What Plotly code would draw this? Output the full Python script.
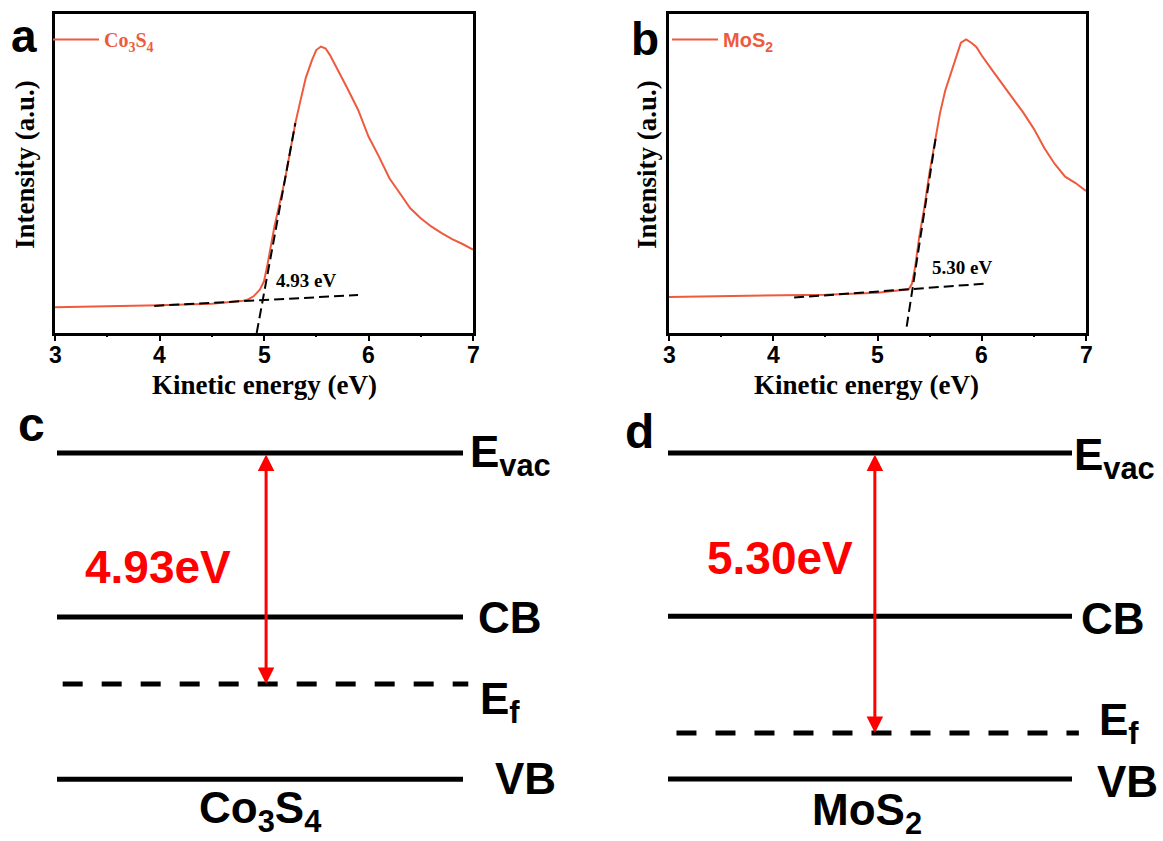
import plotly.graph_objects as go

W, H = 1163, 841
SANS = "Liberation Sans, Arial, sans-serif"
SERIF = "Liberation Serif, Times New Roman, serif"
CURVE = "#EE5A3E"

# ---------------- data: panel a (Co3S4) ----------------
energy_a = [3.0, 3.5, 4.0, 4.5, 4.7, 4.8, 4.84, 4.9, 4.96, 5.0, 5.03, 5.1, 5.2,
            5.25, 5.3, 5.35, 5.4, 5.46, 5.5, 5.545, 5.59, 5.63, 5.7, 5.79, 5.9,
            6.0, 6.1, 6.2, 6.3, 6.4, 6.5, 6.6, 6.7, 6.8, 6.9, 7.0]
intensity_a = [0.081, 0.0835, 0.087, 0.092, 0.097, 0.101, 0.104, 0.115, 0.136,
               0.162, 0.209, 0.334, 0.48, 0.574, 0.658, 0.73, 0.80, 0.856, 0.887,
               0.898, 0.892, 0.872, 0.83, 0.772, 0.70, 0.616, 0.553, 0.485, 0.438,
               0.391, 0.36, 0.334, 0.313, 0.294, 0.279, 0.261]
base_fit_a_x = [3.95, 5.90]
base_fit_a_y = [0.085, 0.119]
edge_fit_a_x = [4.93, 5.30]
edge_fit_a_y = [0.0, 0.658]
cutoff_a = "4.93 eV"

# ---------------- data: panel b (MoS2) ----------------
energy_b = [3.0, 3.5, 4.0, 4.5, 5.0, 5.2, 5.3, 5.33, 5.36, 5.4, 5.45, 5.5, 5.55,
            5.6, 5.65, 5.7, 5.75, 5.8, 5.85, 5.9, 5.95, 6.0, 6.1, 6.2, 6.3, 6.4,
            6.5, 6.6, 6.7, 6.8, 6.9, 7.0]
intensity_b = [0.113, 0.115, 0.116, 0.12, 0.126, 0.132, 0.137, 0.154, 0.205, 0.30,
               0.395, 0.505, 0.60, 0.69, 0.76, 0.81, 0.865, 0.91, 0.92, 0.91,
               0.896, 0.87, 0.824, 0.78, 0.735, 0.69, 0.64, 0.58, 0.53, 0.49,
               0.47, 0.445]
base_fit_b_x = [4.2, 6.05]
base_fit_b_y = [0.111, 0.155]
edge_fit_b_x = [5.28, 5.56]
edge_fit_b_y = [0.02, 0.615]
cutoff_b = "5.30 eV"

x_ticks = [3, 4, 5, 6, 7]
x_tick_text = ["3", "4", "5", "6", "7"]
x_minor_ticks = [3.5, 4.5, 5.5, 6.5]

# ---------------- data: energy level schemes ----------------
# schematic level positions (Evac = 0, Ef = -work function)
levels_c = {"Evac": 0.0, "CB": -3.50, "Ef": -4.93, "VB": -6.96}
levels_d = {"Evac": 0.0, "CB": -3.09, "Ef": -5.30, "VB": -6.17}
wf_c = "4.93eV"
wf_d = "5.30eV"
name_c = "Co<sub>3</sub>S<sub>4</sub>"
name_d = "MoS<sub>2</sub>"


def px(x):
    return x / W


def py(y):
    return 1 - y / H


fig = go.Figure()

# ---- panel a traces
fig.add_trace(go.Scatter(x=energy_a, y=intensity_a, mode="lines",
                         line=dict(color=CURVE, width=2),
                         name="Co<sub>3</sub>S<sub>4</sub>",
                         xaxis="x", yaxis="y", legend="legend"))
fig.add_trace(go.Scatter(x=base_fit_a_x, y=base_fit_a_y, mode="lines",
                         line=dict(color="black", width=2, dash="10px,5px"),
                         showlegend=False, xaxis="x", yaxis="y"))
fig.add_trace(go.Scatter(x=edge_fit_a_x, y=edge_fit_a_y, mode="lines",
                         line=dict(color="black", width=2, dash="10px,5px"),
                         showlegend=False, xaxis="x", yaxis="y"))

# ---- panel b traces
fig.add_trace(go.Scatter(x=energy_b, y=intensity_b, mode="lines",
                         line=dict(color=CURVE, width=2),
                         name="MoS<sub>2</sub>",
                         xaxis="x2", yaxis="y2", legend="legend2"))
fig.add_trace(go.Scatter(x=base_fit_b_x, y=base_fit_b_y, mode="lines",
                         line=dict(color="black", width=2, dash="10px,5px"),
                         showlegend=False, xaxis="x2", yaxis="y2"))
fig.add_trace(go.Scatter(x=edge_fit_b_x, y=edge_fit_b_y, mode="lines",
                         line=dict(color="black", width=2, dash="10px,5px"),
                         showlegend=False, xaxis="x2", yaxis="y2"))

# empty traces so the minor-tick overlay axes are drawn
fig.add_trace(go.Scatter(x=[], y=[], xaxis="x5", yaxis="y", showlegend=False,
                         hoverinfo="skip"))
fig.add_trace(go.Scatter(x=[], y=[], xaxis="x6", yaxis="y2", showlegend=False,
                         hoverinfo="skip"))


# ---- panels c / d: energy levels
def add_levels(levels, xa, ya, ef_x0, ef_x1):
    for key in ["Evac", "CB", "VB"]:
        fig.add_trace(go.Scatter(x=[0, 1], y=[levels[key], levels[key]],
                                 mode="lines", line=dict(color="black", width=5),
                                 showlegend=False, xaxis=xa, yaxis=ya,
                                 hoverinfo="skip"))
    fig.add_trace(go.Scatter(x=[ef_x0, ef_x1], y=[levels["Ef"], levels["Ef"]],
                             mode="lines",
                             line=dict(color="black", width=5, dash="20px,19px"),
                             showlegend=False, xaxis=xa, yaxis=ya,
                             hoverinfo="skip"))


add_levels(levels_c, "x3", "y3", 0.014, 1.013)
add_levels(levels_d, "x4", "y4", 0.021, 1.017)


def xaxis_def(domain, anchor):
    return dict(domain=domain, anchor=anchor, range=[3, 7], automargin=False,
                showline=True, linecolor="black", linewidth=2.5, mirror=True,
                showgrid=False, zeroline=False,
                tickmode="array", tickvals=x_ticks,
                ticks="outside", ticklen=5, tickwidth=2, tickcolor="black",
                showticklabels=False)


def minor_def(over, anchor):
    return dict(overlaying=over, anchor=anchor, range=[3, 7], side="bottom",
                automargin=False,
                tickmode="array", tickvals=x_minor_ticks, ticks="outside",
                ticklen=3, tickwidth=2, tickcolor="black", showticklabels=False,
                showgrid=False, zeroline=False, showline=False)


def yaxis_def(domain, anchor):
    return dict(domain=domain, anchor=anchor, range=[0, 1], automargin=False,
                showline=True, linecolor="black", linewidth=2.5, mirror=True,
                showgrid=False, zeroline=False, showticklabels=False, ticks="")


fig.update_layout(
    template="none",
    font=dict(family="Liberation Sans", size=22, color="black"),
    width=W, height=H, margin=dict(l=0, r=0, t=0, b=0, pad=0),
    paper_bgcolor="white", plot_bgcolor="white",
    xaxis=xaxis_def([px(55), px(473)], "y"),
    yaxis=yaxis_def([py(333), py(14)], "x"),
    xaxis2=xaxis_def([px(669), px(1086)], "y2"),
    yaxis2=yaxis_def([py(333), py(14)], "x2"),
    xaxis5=minor_def("x", "y"),
    xaxis6=minor_def("x2", "y2"),
    xaxis3=dict(visible=False, domain=[0, 0.5], anchor="y3",
                range=[-57 / 406, (581.5 - 57) / 406]),
    yaxis3=dict(visible=False, domain=[0, py(400)], anchor="x3",
                range=[-(841 - 453) / 46.86, 53 / 46.86]),
    xaxis4=dict(visible=False, domain=[0.5, 1], anchor="y4",
                range=[-(668 - 581.5) / 404, (1163 - 668) / 404]),
    yaxis4=dict(visible=False, domain=[0, py(400)], anchor="x4",
                range=[-(841 - 453) / 52.83, 53 / 52.83]),
    legend=dict(x=px(48), y=py(20), xanchor="left", yanchor="top",
                bgcolor="rgba(0,0,0,0)", itemwidth=46, borderwidth=0,
                font=dict(family=SERIF, size=20, color=CURVE, weight="bold")),
    legend2=dict(x=px(667), y=py(20), xanchor="left", yanchor="top",
                 bgcolor="rgba(0,0,0,0)", itemwidth=46, borderwidth=0,
                 font=dict(family=SANS, size=20, color=CURVE, weight="bold")),
)

ann = []


def text(x, y, t, size, fam=SANS, color="black", xref="paper", yref="paper",
         xanchor="center", yanchor="middle", angle=0):
    ann.append(dict(x=x, y=y, text=t, xref=xref, yref=yref, showarrow=False,
                    xanchor=xanchor, yanchor=yanchor, textangle=angle,
                    font=dict(family=fam, size=size, color=color, weight="bold")))


# x tick labels, placed at the tick values on each panel's energy axis
for xr in ["x", "x2"]:
    for tv, tt in zip(x_ticks, x_tick_text):
        text(tv, py(355), tt, 23, SANS, xref=xr)

# panel letters
text(px(24), py(36), "a", 46)
text(px(645), py(39), "b", 46)
text(px(31), py(425), "c", 48)
text(px(639), py(431), "d", 48)

# axis titles (a, b)
text(px(264), py(385), "Kinetic energy (eV)", 27, SERIF)
text(px(866), py(385), "Kinetic energy (eV)", 27, SERIF)
text(px(25), py(165), "Intensity (a.u.)", 27, SERIF, angle=-90)
text(px(647), py(165), "Intensity (a.u.)", 27, SERIF, angle=-90)

# cutoff labels
text(5.40, 0.166, cutoff_a, 19, SERIF, xref="x", yref="y")
text(5.815, 0.204, cutoff_b, 19, SERIF, xref="x2", yref="y2")

# panel c labels
text(1.012, -0.04, "E<sub>vac</sub>", 44, xref="x3", yref="y3", xanchor="left")
text(1.032, levels_c["CB"], "CB", 44, xref="x3", yref="y3", xanchor="left")
text(1.037, levels_c["Ef"] - 0.394, "E<sub>f</sub>", 44, xref="x3", yref="y3",
     xanchor="left")
text(1.074, levels_c["VB"] + 0.02, "VB", 44, xref="x3", yref="y3", xanchor="left")
text(0.249, -2.433, wf_c, 46, color="red", xref="x3", yref="y3")
text(0.5, -7.64, name_c, 44, xref="x3", yref="y3")

# panel d labels
text(1.0, -0.104, "E<sub>vac</sub>", 44, xref="x4", yref="y4", xanchor="left")
text(1.017, -3.142, "CB", 44, xref="x4", yref="y4", xanchor="left")
text(1.062, levels_d["Ef"] + 0.18, "E<sub>f</sub>", 44, xref="x4", yref="y4",
     xanchor="left")
text(1.057, -6.21, "VB", 44, xref="x4", yref="y4", xanchor="left")
text(0.277, -1.99, wf_d, 46, color="red", xref="x4", yref="y4")
text(0.4926, -6.82, name_d, 44, xref="x4", yref="y4")

# work-function arrows
for xr, yr, xpos, lv in [("x3", "y3", 0.515, levels_c), ("x4", "y4", 0.512, levels_d)]:
    ann.append(dict(x=xpos, y=lv["Ef"], ax=xpos, ay=lv["Evac"], xref=xr, yref=yr,
                    axref=xr, ayref=yr, text="", showarrow=True,
                    arrowhead=2, arrowsize=1.1, arrowwidth=3, arrowcolor="red",
                    arrowside="end+start", startarrowhead=2,
                    startarrowsize=1.1, standoff=0, startstandoff=0))

fig.update_layout(annotations=ann)
fig.write_html("out.html")
